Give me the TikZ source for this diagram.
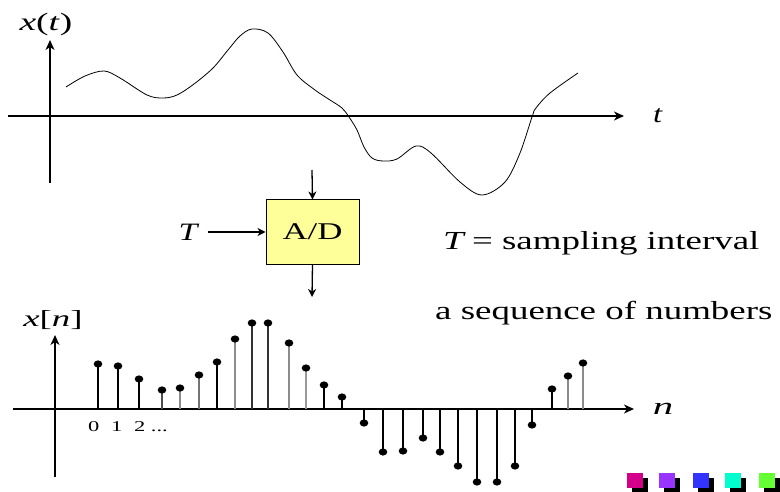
\documentclass[tikz,border=0pt]{standalone}
\usepackage{fontspec}
\setmainfont{Liberation Serif}
\usepackage{graphicx}
\usetikzlibrary{arrows.meta}
\definecolor{adyellow}{HTML}{FFFF99}
\definecolor{sqA}{HTML}{D4008C}
\definecolor{sqB}{HTML}{9933FF}
\definecolor{sqC}{HTML}{3333FF}
\definecolor{sqD}{HTML}{00FFCC}
\definecolor{sqE}{HTML}{66FF33}
\newcommand\hsx[2]{\scalebox{#1}[1]{#2}}
\begin{document}
\begin{tikzpicture}[x=1pt,y=-1pt,
  axis/.style={line width=1.3pt,-{Stealth[length=10pt,width=9pt,inset=3pt]}},
  arr/.style={line width=1.3pt,-{Stealth[length=8pt,width=8pt,inset=2.5pt]}},
  lbl/.style={inner sep=0pt,font=\fontsize{24}{28}\selectfont},
  stemline/.style={line width=1.4pt},
  curve/.style={line width=0.8pt}]
\useasboundingbox (0,0) rectangle (780,492);
% ---------- top: continuous signal ----------
\coordinate (ya0) at (50,183);
\coordinate (ya1) at (50,40);
\coordinate (xa0) at (8,116);
\coordinate (xa1) at (624,116);
\draw[axis] (ya0) -- (ya1);
\draw[axis] (xa0) -- (xa1);
\node[lbl,font=\fontsize{25}{28}\selectfont] (xt) at (46,24) {\hsx{1.5}{\textit{x}(\textit{t})}};
\node[lbl,font=\fontsize{25}{28}\selectfont] (tl) at (658,116) {\hsx{1.3}{\textit{t}}};
\draw[curve] plot[smooth,tension=0.55] coordinates {
 (66,87) (85,76) (104,71) (120,78) (147,95) (163,98) (177,95) (194,84) (213,68)
 (228,50) (240,36) (252,29) (268,33) (283,52) (297,75) (315,90) (330,100)
 (342,108) (349,117) (357,130) (364,147) (372,158) (383,161) (397,159)
 (416,146) (431,153) (460,182) (482,195) (505,182) (520,153) (532,117)
 (536,108) (550,93) (578,73)};
% ---------- A/D block ----------
\node[draw,fill=adyellow,line width=1pt,minimum width=93pt,minimum height=64pt,
      inner sep=0pt,font=\fontsize{24}{28}\selectfont] (ad) at (312.5,232) {\hsx{1.45}{A/D}};
\coordinate (adin) at (312,170);
\coordinate (adout) at (312,297);
\draw[arr] (adin) -- (ad.north);
\draw[arr] (ad.south) -- (adout);
\node[lbl,font=\fontsize{25}{28}\selectfont] (T) at (189,232) {\hsx{1.35}{\textit{T}}};
\draw[arr] ([xshift=8pt]T.east) -- (ad.west);
\node[lbl,anchor=west,font=\fontsize{26}{30}\selectfont] (samp) at (443,243)
  {\hsx{1.42}{\textit{T}\,= sampling interval}};
\node[lbl,anchor=west,font=\fontsize{26}{30}\selectfont] (seq) at (435,313)
  {\hsx{1.42}{a sequence of numbers}};
% ---------- bottom: discrete sequence ----------
\coordinate (yb0) at (55,477);
\coordinate (yb1) at (55,335);
\coordinate (xb0) at (13,409);
\coordinate (xb1) at (634,409);
\draw[axis] (yb0) -- (yb1);
\draw[axis] (xb0) -- (xb1);
\node[lbl,font=\fontsize{23}{26}\selectfont] (xn) at (53,320) {\hsx{1.6}{\textit{x}[\textit{n}]}};
\node[lbl,font=\fontsize{24}{28}\selectfont] (nl) at (663,409) {\hsx{1.7}{\textit{n}}};
\node[lbl,anchor=west,font=\fontsize{15}{18}\selectfont] (idx) at (88,427)
  {\hsx{1.5}{0\hspace{0.52em}1\hspace{0.52em}2 ...}};
\foreach \px/\py/\c in {98/364/black,118/366/black,139/379/black,162/390/black!70,
  180/388/black!45,199/375/black!55,217/362/black,235/339/black!45,252/323/black!80,
  268/323/black!80,289/343/black!45,306/368/black!40,324/385/black,342/397/black,
  364/423/black,383/452/black,403/451/black,423/438/black,440/452/black,
  458/466/black,477/482/black,497/482/black,515/466/black,532/425/black,
  552/389/black,568/376/black!45,583/363/black!45} {
  \draw[stemline,draw=\c] (\px,409) -- (\px,\py);
  \fill (\px,\py) ellipse [x radius=4.3pt,y radius=3.6pt];
}
% ---------- colour squares ----------
\foreach \sx/\col in {627/sqA,659/sqB,693/sqC,725/sqD,759/sqE} {
  \fill[black] (\sx+5,478) rectangle ++(16,15);
  \fill[\col] (\sx,473) rectangle ++(16,15);
}
\end{tikzpicture}
\end{document}
